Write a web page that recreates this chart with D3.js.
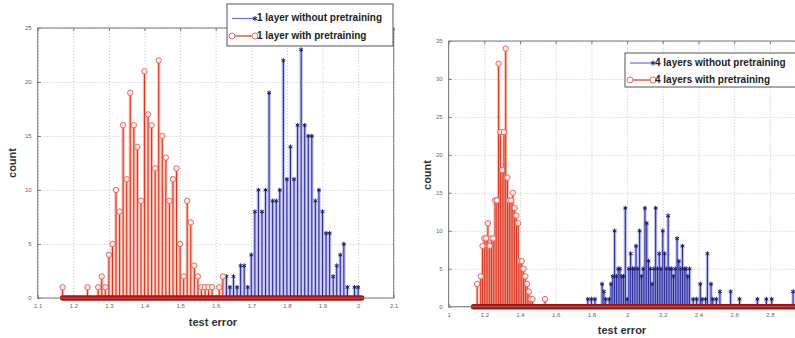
<!DOCTYPE html>
<html>
<head>
<meta charset="utf-8">
<script src="https://cdn.jsdelivr.net/npm/d3@7"></script>
<style>
  body { margin: 0; background: #fff; }
  svg { display: block; font-family: "Liberation Sans", Arial, sans-serif; }
  .grid line { stroke: #c4c4c4; stroke-dasharray: 1,2; }
  .grid path { display: none; }
  .axis path { display: none; }
  .axis line { stroke: #777; }
  .axis text { font-size: 6px; fill: #666; }
</style>
</head>
<body>
<svg width="795" height="338"></svg>
<script>
// ---- data ----
// left panel: 1 layer
const leftBlueErr = [1.63,1.64,1.65,1.66,1.67,1.68,1.69,1.70,1.71,1.72,1.73,1.74,1.75,1.76,1.77,1.78,1.79,1.80,1.81,1.82,1.83,1.84,1.85,1.86,1.87,1.88,1.89,1.90,1.91,1.92,1.93,1.94,1.95,1.96,1.97,1.99,2.00];
const leftBlueCount = [2,1,2,1,3,3,1,4,8,10,8,10,19,9,9,10,22,11,14,11,16,23,16,15,15,9,10,8,6,6,2,3,4,5,1,1,1];
const leftRedErr = [1.17,1.24,1.27,1.28,1.29,1.30,1.31,1.32,1.33,1.34,1.35,1.36,1.37,1.38,1.39,1.40,1.41,1.42,1.43,1.44,1.45,1.46,1.47,1.48,1.49,1.50,1.51,1.52,1.53,1.54,1.55,1.56,1.57,1.58,1.59,1.61,1.62];
const leftRedCount = [1,1,1,2,1,4,5,10,8,16,11,19,16,14,9,21,17,16,12,22,15,13,9,11,12,5,2,9,7,3,2,1,1,1,1,1,2];
const leftZeroSpan = [1.17, 2.01];
const leftXTicks = [1.1,1.2,1.3,1.4,1.5,1.6,1.7,1.8,1.9,2.0,2.1];
const leftYTicks = [0,5,10,15,20,25];
const leftLegend = ["1 layer without pretraining", "1 layer with pretraining"];

// right panel: 4 layers
const rightBlueErr = [1.78,1.80,1.82,1.86,1.87,1.88,1.90,1.91,1.92,1.93,1.94,1.95,1.96,1.97,1.98,1.99,2.00,2.01,2.02,2.03,2.04,2.05,2.06,2.07,2.08,2.09,2.10,2.11,2.12,2.13,2.14,2.15,2.16,2.17,2.18,2.19,2.20,2.21,2.22,2.23,2.24,2.25,2.26,2.27,2.28,2.29,2.30,2.31,2.32,2.33,2.34,2.35,2.37,2.39,2.41,2.42,2.44,2.45,2.47,2.48,2.50,2.52,2.58,2.63,2.73,2.78,2.81,2.93];
const rightBlueCount = [1,1,1,3,2,1,1,3,4,10,4,5,5,4,4,13,1,5,7,5,5,8,5,10,4,5,13,11,6,5,3,5,13,5,7,5,10,7,5,12,5,5,4,5,9,6,5,8,5,5,4,5,1,1,3,1,1,7,3,1,1,2,2,1,1,1,1,2];
const rightRedErr = [1.16,1.18,1.19,1.20,1.21,1.22,1.23,1.24,1.25,1.26,1.27,1.28,1.29,1.30,1.31,1.32,1.33,1.34,1.35,1.36,1.37,1.38,1.39,1.40,1.41,1.42,1.43,1.44,1.45,1.46,1.47,1.54];
const rightRedCount = [3,4,8,9,9,11,8,9,9,14,14,32,23,18,23,34,17,14,14,15,13,12,11,6,6,5,4,3,2,1,1,1];
const rightZeroSpan = [1.14, 3.05];
const rightXTicks = [1.0,1.2,1.4,1.6,1.8,2.0,2.2,2.4,2.6,2.8];
const rightYTicks = [0,5,10,15,20,25,30,35];
const rightLegend = ["4 layers without pretraining", "4 layers with pretraining"];

const xLabel = "test error";
const yLabel = "count";

const blue = { dark: "#2c2c9c", light: "#aeb0e8" };
const red = { dark: "#d8341e", light: "#f6b4a4", marker: "#e46a6a" };

const svg = d3.select("svg");

const panels = [
  {
    xDomain: [1.1, 2.1], xRange: [37.7, 393.7],
    yDomain: [0, 25], yRange: [298, 28],
    xTicks: leftXTicks, yTicks: leftYTicks,
    blue: d3.zip(leftBlueErr, leftBlueCount),
    red: d3.zip(leftRedErr, leftRedCount),
    zero: leftZeroSpan,
    legend: leftLegend, legendBox: [227, 4, 166, 42], legendRows: [18.5, 36],
    xLabelPos: [213, 326], yLabelPos: [13, 163],
  },
  {
    xDomain: [1.0, 3.0], xRange: [448.6, 805.6],
    yDomain: [0, 35], yRange: [306.7, 41],
    xTicks: rightXTicks, yTicks: rightYTicks,
    blue: d3.zip(rightBlueErr, rightBlueCount),
    red: d3.zip(rightRedErr, rightRedCount),
    zero: rightZeroSpan,
    legend: rightLegend, legendBox: [625, 53, 185, 34], legendRows: [63, 80],
    xLabelPos: [622, 334], yLabelPos: [428, 175],
  },
];

const fmt = d3.format(".1~f");

panels.forEach((p) => {
  const x = d3.scaleLinear().domain(p.xDomain).range(p.xRange);
  const y = d3.scaleLinear().domain(p.yDomain).range(p.yRange);
  const [x0, x1] = p.xRange;
  const [yb, yt] = p.yRange;

  const g = svg.append("g");

  g.append("rect")
    .attr("x", x0).attr("y", yt)
    .attr("width", x1 - x0).attr("height", yb - yt)
    .attr("fill", "#fff");

  // dotted grid
  g.append("g").classed("grid", true)
    .attr("transform", `translate(0,${yb})`)
    .call(d3.axisBottom(x).tickValues(p.xTicks).tickSize(-(yb - yt)).tickFormat(""));
  g.append("g").classed("grid", true)
    .attr("transform", `translate(${x0},0)`)
    .call(d3.axisLeft(y).tickValues(p.yTicks).tickSize(-(x1 - x0)).tickFormat(""));

  // ticks + labels (matlab style, ticks inside)
  g.append("g").classed("axis", true)
    .attr("transform", `translate(0,${yb})`)
    .call(d3.axisBottom(x).tickValues(p.xTicks).tickSizeInner(-3).tickPadding(6).tickFormat(fmt));
  g.append("g").classed("axis", true)
    .attr("transform", `translate(0,${yt})`)
    .call(d3.axisTop(x).tickValues(p.xTicks).tickSizeInner(-3).tickFormat(""));
  g.append("g").classed("axis", true)
    .attr("transform", `translate(${x0},0)`)
    .call(d3.axisLeft(y).tickValues(p.yTicks).tickSizeInner(-3).tickPadding(6));

  // stems: soft halo + thin core
  const drawStems = (data, col) => {
    const sg = g.append("g");
    sg.selectAll("line.halo").data(data).join("line")
      .attr("x1", (d) => x(d[0])).attr("x2", (d) => x(d[0]))
      .attr("y1", y(0)).attr("y2", (d) => y(d[1]))
      .attr("stroke", col.light).attr("stroke-width", 3.4).attr("opacity", 0.75);
    sg.selectAll("line.core").data(data).join("line")
      .attr("x1", (d) => x(d[0])).attr("x2", (d) => x(d[0]))
      .attr("y1", y(0)).attr("y2", (d) => y(d[1]))
      .attr("stroke", col.dark).attr("stroke-width", 1.1);
  };
  drawStems(p.blue, blue);
  g.append("g").selectAll("path").data(p.blue).join("path")
    .attr("transform", (d) => `translate(${x(d[0])},${y(d[1])})`)
    .attr("d", d3.symbol(d3.symbolAsterisk, 14))
    .attr("fill", "none").attr("stroke", "#1c1c70").attr("stroke-width", 1);

  drawStems(p.red, red);
  g.append("g").selectAll("circle").data(p.red).join("circle")
    .attr("cx", (d) => x(d[0])).attr("cy", (d) => y(d[1]))
    .attr("r", 2.7)
    .attr("fill", "#fde8e4").attr("stroke", red.marker).attr("stroke-width", 1);

  // zero-count markers form the thick red base band
  g.append("line")
    .attr("x1", x(p.zero[0])).attr("x2", x(p.zero[1]))
    .attr("y1", y(0)).attr("y2", y(0))
    .attr("stroke", "#b80d0d").attr("stroke-width", 5.5).attr("stroke-linecap", "round");

  // frame
  g.append("rect")
    .attr("x", x0).attr("y", yt)
    .attr("width", x1 - x0).attr("height", yb - yt)
    .attr("fill", "none").attr("stroke", "#7a7a7a");

  // axis titles
  g.append("text")
    .attr("x", p.xLabelPos[0]).attr("y", p.xLabelPos[1])
    .attr("text-anchor", "middle").attr("font-size", 11).attr("font-weight", "bold")
    .attr("fill", "#333").text(xLabel);
  g.append("text")
    .attr("transform", `translate(${p.yLabelPos[0]},${p.yLabelPos[1]}) rotate(-90)`)
    .attr("text-anchor", "middle").attr("dominant-baseline", "middle")
    .attr("font-size", 11).attr("font-weight", "bold")
    .attr("fill", "#333").text(yLabel);

  // legend
  const [lx, ly, lw, lh] = p.legendBox;
  const lg = g.append("g");
  lg.append("rect").attr("x", lx).attr("y", ly).attr("width", lw).attr("height", lh)
    .attr("fill", "#fff").attr("stroke", "#555");
  const sx0 = lx + 5, sx1 = lx + 28;
  // blue entry
  lg.append("line").attr("x1", sx0).attr("x2", sx1)
    .attr("y1", p.legendRows[0]).attr("y2", p.legendRows[0])
    .attr("stroke", "#6d6dd0").attr("stroke-width", 1.2);
  lg.append("path").attr("transform", `translate(${sx1},${p.legendRows[0]})`)
    .attr("d", d3.symbol(d3.symbolAsterisk, 18))
    .attr("fill", "none").attr("stroke", "#1c1c70");
  // red entry
  lg.append("line").attr("x1", sx0).attr("x2", sx1)
    .attr("y1", p.legendRows[1]).attr("y2", p.legendRows[1])
    .attr("stroke", red.dark).attr("stroke-width", 1.2);
  [sx0, sx1].forEach((cx) => {
    lg.append("circle").attr("cx", cx).attr("cy", p.legendRows[1]).attr("r", 3)
      .attr("fill", "#fff").attr("stroke", red.marker);
  });
  p.legend.forEach((t, i) => {
    lg.append("text").attr("x", sx1 + 2).attr("y", p.legendRows[i])
      .attr("dominant-baseline", "middle")
      .attr("font-size", 10).attr("font-weight", "bold")
      .attr("fill", "#222").text(t);
  });
});
</script>
</body>
</html>
